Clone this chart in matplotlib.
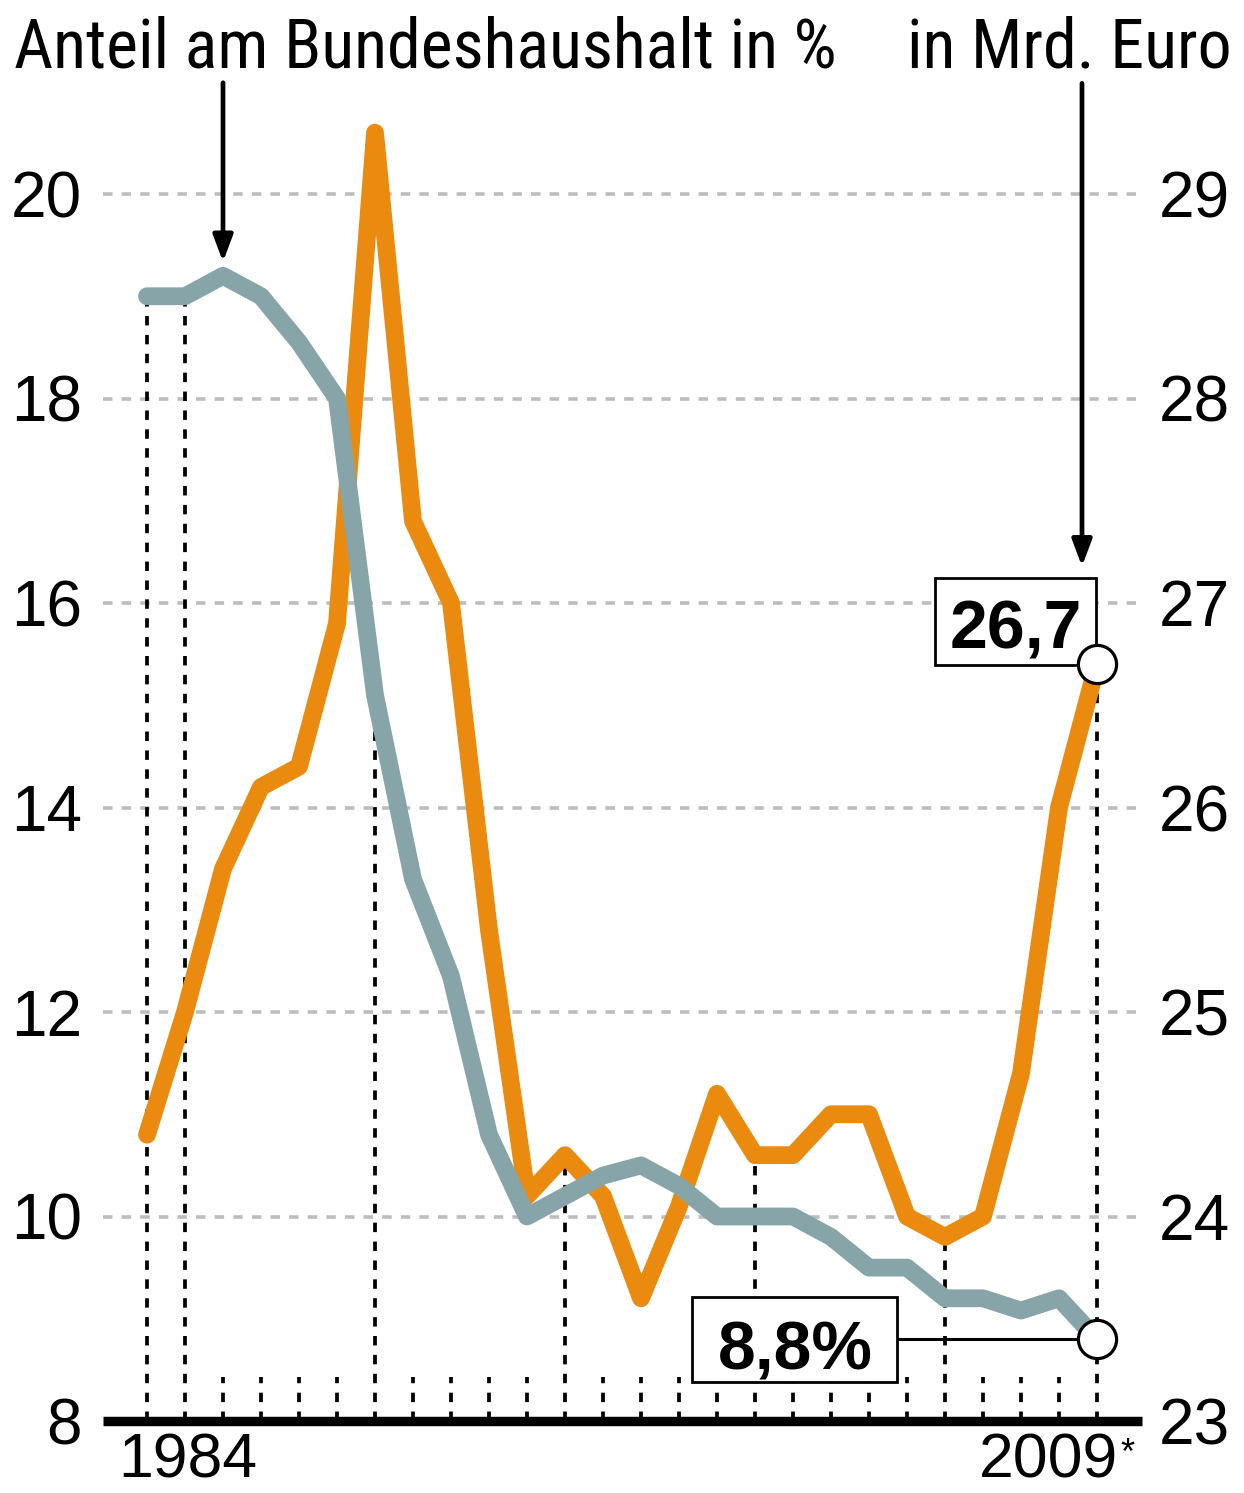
import matplotlib
matplotlib.use("Agg")
import matplotlib.pyplot as plt
from matplotlib import font_manager
from matplotlib.transforms import Affine2D, ScaledTranslation
from matplotlib.patches import Rectangle

# ---------------- data ----------------
years = list(range(1984, 2010))
share_pct = [19.0, 19.0, 19.2, 19.0, 18.55, 18.0, 15.1, 13.3, 12.35, 10.8,
             10.0, 10.2, 10.4, 10.5, 10.3, 10.0, 10.0, 10.0, 9.8, 9.5,
             9.5, 9.2, 9.2, 9.08, 9.2, 8.8]
spend_bn = [24.4, 25.0, 25.7, 26.1, 26.2, 26.9, 29.3, 27.4, 27.0, 25.4,
            24.1, 24.3, 24.1, 23.6, 24.05, 24.6, 24.3, 24.3, 24.5, 24.5,
            24.0, 23.9, 24.0, 24.7, 26.0, 26.7]
left_ticks = [8, 10, 12, 14, 16, 18, 20]
right_ticks = [23, 24, 25, 26, 27, 28, 29]
marked_years = [1984, 1985, 1990, 1995, 2000, 2005, 2009]
marked_series = ["pct", "pct", "pct", "eur", "eur", "eur", "eur"]
title_left = "Anteil am Bundeshaushalt in %"
title_right = "in Mrd. Euro"
first_label = "1984"
last_label = "2009"
last_mark = "*"
label_pct = "8,8%"
label_eur = "26,7"

# ---------------- style ----------------
ORANGE = "#EA8B10"
GRAY = "#87A4A8"
GRID = "#BDBDBD"

available = {f.name for f in font_manager.fontManager.ttflist}
def pick(*names):
    for n in names:
        if n in available:
            return n
    return "DejaVu Sans"
NARROW = pick("Liberation Sans Narrow", "Roboto Condensed", "Open Sans Condensed", "DejaVu Sans")
REG = pick("Liberation Sans", "Arimo", "DejaVu Sans")

plt.rcParams["lines.scale_dashes"] = False
plt.rcParams["font.family"] = [REG, "DejaVu Sans"]

W, H = 1244, 1493
fig = plt.figure(figsize=(W / 100, H / 100), dpi=100)
fig.patch.set_facecolor("white")

# axes frame in pixels
AX_L, AX_R = 103, 1142
AX_B = 1421
X0_PX, X1_PX = 147, 1097          # pixel positions of first/last year
PX_PER_UNIT = 102.25              # left axis px per percentage point
YMIN, YMAX = 8, 21
px_per_year = (X1_PX - X0_PX) / (years[-1] - years[0])
xlim = (years[0] - (X0_PX - AX_L) / px_per_year, years[-1] + (AX_R - X1_PX) / px_per_year)
ax_h = (YMAX - YMIN) * PX_PER_UNIT
ax = fig.add_axes([AX_L / W, (H - AX_B) / H, (AX_R - AX_L) / W, ax_h / H])
ax2 = ax.twinx()
ax.set_zorder(2)
ax2.set_zorder(1)
ax.patch.set_visible(False)
ax2.patch.set_visible(False)

ax.set_xlim(*xlim)
ax.set_ylim(YMIN, YMAX)
ax2.set_ylim(23, 23 + (YMAX - YMIN) / 2)

for a in (ax, ax2):
    for s in a.spines.values():
        s.set_visible(False)
    a.set_xticks([])
ax.spines["bottom"].set_visible(True)
ax.spines["bottom"].set_linewidth(6.8)
ax.spines["bottom"].set_color("black")
ax.spines["bottom"].set_capstyle("butt")

ax.set_yticks(left_ticks)
ax.set_yticklabels([str(t) for t in left_ticks])
ax.tick_params(axis="y", length=0, pad=15, labelsize=46, labelcolor="black")
ax2.set_yticks(right_ticks)
ax2.set_yticklabels([str(t) for t in right_ticks])
ax2.tick_params(axis="y", length=0, pad=12, labelsize=46, labelcolor="black")

# grid (below everything)
for t in right_ticks[1:]:
    ax2.axhline(t, color=GRID, lw=2.6, linestyle=(0, (6.8, 6.6)), zorder=0.5)

# vertical dashed guide lines and small year ticks
DASH = (0, (6.8, 6.8))
DLW = 2.7
short_top = 23 + 44 / (2 * PX_PER_UNIT)
for i, yr in enumerate(years):
    if yr in marked_years:
        kind = marked_series[marked_years.index(yr)]
        if kind == "pct":
            ax2.plot([yr, yr], [YMIN, share_pct[i]], color="black", lw=DLW,
                     linestyle=DASH, dash_capstyle="butt", zorder=1,
                     transform=ax.transData)
        else:
            ax2.plot([yr, yr], [23, spend_bn[i]], color="black", lw=DLW,
                     linestyle=DASH, dash_capstyle="butt", zorder=1)
    else:
        ax2.plot([yr, yr], [23, short_top], color="black", lw=DLW,
                 linestyle=DASH, dash_capstyle="butt", zorder=1)

# series
ax2.plot(years, spend_bn, color=ORANGE, lw=12.8, solid_capstyle="round",
         solid_joinstyle="round", zorder=3, clip_on=False)
ax.plot(years, share_pct, color=GRAY, lw=12.8, solid_capstyle="round",
        solid_joinstyle="round", zorder=3, clip_on=False)

# end markers
ax2.plot([years[-1]], [spend_bn[-1]], marker="o", ms=27.5, mfc="white",
         mec="black", mew=2.3, zorder=6, clip_on=False)
ax.plot([years[-1]], [share_pct[-1]], marker="o", ms=27.5, mfc="white",
        mec="black", mew=2.3, zorder=6, clip_on=False)

def anchor(a, x, y):
    # pixel offsets relative to a data point
    return Affine2D() + ScaledTranslation(x, y, a.transData)

# 26,7 box
T_eur = anchor(ax2, years[-1], spend_bn[-1])
ax2.add_patch(Rectangle((-162, -1), 161, 87, transform=T_eur, fc="white",
                        ec="black", lw=2.0, zorder=5, clip_on=False))
ax2.text(-81, 16, label_eur, transform=T_eur, ha="center", va="baseline",
         fontsize=49, fontweight="bold", family=[REG, "DejaVu Sans"], zorder=5.5, clip_on=False)

# 8,8% box
T_pct = anchor(ax, years[-1], share_pct[-1])
ax.plot([-200, 0], [0, 0], color="black", lw=2.2, transform=T_pct, zorder=5,
        clip_on=False)
ax.add_patch(Rectangle((-405, -43), 205, 85, transform=T_pct, fc="white",
                       ec="black", lw=2.0, zorder=5, clip_on=False))
ax.text(-302, -30, label_pct, transform=T_pct, ha="center", va="baseline",
        fontsize=49, fontweight="bold", family=[REG, "DejaVu Sans"], zorder=5.5, clip_on=False)

# arrows
arrow_kw = dict(arrowstyle="-|>,head_length=0.8,head_width=0.3", mutation_scale=20,
                color="black", lw=3.4, shrinkA=0, shrinkB=0)
T_1986 = anchor(ax, years[2], share_pct[2])
ax.annotate("", xy=(0, 14), xycoords=T_1986, xytext=(0, 193), textcoords=T_1986,
            arrowprops=arrow_kw, annotation_clip=False)
ax2.annotate("", xy=(-15, 98), xycoords=T_eur, xytext=(-15, 581), textcoords=T_eur,
             arrowprops=arrow_kw, annotation_clip=False)

# titles
fig.text(14 / W, (H - 67) / H, title_left, ha="left", va="baseline", fontsize=49,
         family=[NARROW, "DejaVu Sans"])
fig.text(1232 / W, (H - 67) / H, title_right, ha="right", va="baseline", fontsize=49,
         family=[NARROW, "DejaVu Sans"])

# year labels
ax.annotate(first_label, xy=(years[0], 0), xycoords=("data", "axes fraction"),
            xytext=(-29, -57), textcoords="offset pixels", ha="left", va="baseline",
            fontsize=45, annotation_clip=False)
ax.annotate(last_label, xy=(years[-1], 0), xycoords=("data", "axes fraction"),
            xytext=(21, -57), textcoords="offset pixels", ha="right", va="baseline",
            fontsize=45, annotation_clip=False)
ax.annotate(last_mark, xy=(years[-1], 0), xycoords=("data", "axes fraction"),
            xytext=(23, -16), textcoords="offset pixels", ha="left", va="top",
            fontsize=26, annotation_clip=False)

fig.savefig("out.png", dpi=100, facecolor="white")
